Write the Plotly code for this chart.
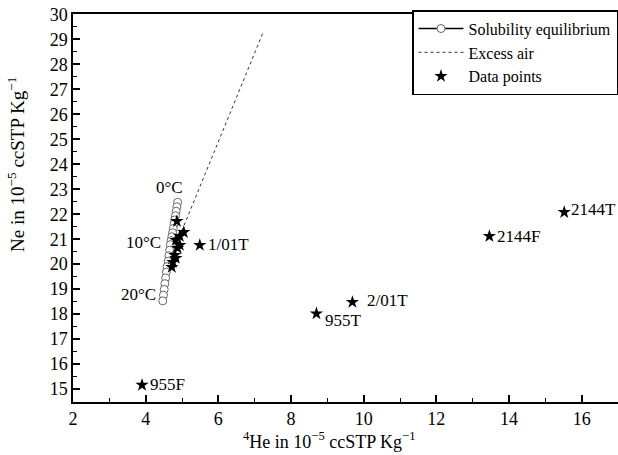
import plotly.graph_objects as go

# Solubility equilibrium (0..20 °C)
temps = list(range(0, 21))
sol_he = [4.88, 4.86, 4.84, 4.82, 4.80, 4.78, 4.76, 4.74, 4.72, 4.70, 4.68,
          4.66, 4.64, 4.62, 4.59, 4.57, 4.55, 4.53, 4.51, 4.49, 4.47]
sol_ne = [22.48, 22.30, 22.12, 21.94, 21.77, 21.60, 21.43, 21.26, 21.10, 20.94, 20.78,
          20.56, 20.34, 20.12, 19.90, 19.68, 19.45, 19.22, 18.99, 18.76, 18.53]

# Excess air line
air_he = [4.62, 7.22]
air_ne = [20.0, 29.24]

# Data points
pts_he = [4.86, 5.05, 4.83, 4.88, 4.80, 4.75, 4.72, 4.94, 4.83, 4.94,
          5.49, 3.90, 8.70, 9.69, 13.46, 15.52]
pts_ne = [21.72, 21.28, 20.96, 20.64, 20.36, 20.08, 19.88, 21.12, 20.24, 20.76,
          20.76, 15.16, 18.02, 18.48, 21.12, 22.08]

label_names = ["1/01T", "955F", "955T", "2/01T", "2144F", "2144T"]
label_he = [5.49, 3.90, 8.70, 9.69, 13.46, 15.52]
label_ne = [20.76, 15.16, 18.02, 18.48, 21.12, 22.08]
label_shift = [(6, 1), (6, 1), (7, -7), (13, 2), (6, 0), (5, 3)]

temp_labels = {0: (7, 15), 10: (-7, 2), 20: (-5, 6)}

x_title = "<sup>4</sup>He in 10<sup>−5</sup> ccSTP Kg<sup>−1</sup>"
y_title = "Ne in 10<sup>−5</sup> ccSTP Kg<sup>−1</sup>"

FONT = "Liberation Serif"

fig = go.Figure()
fig.add_trace(go.Scatter(
    x=sol_he, y=sol_ne, mode="lines+markers", name="Solubility equilibrium",
    line=dict(color="black", width=1.5),
    marker=dict(symbol="circle", size=8, color="white",
                line=dict(color="#666666", width=1)),
))
fig.add_trace(go.Scatter(
    x=air_he, y=air_ne, mode="lines", name="Excess air",
    line=dict(color="#333333", width=1, dash="dot"),
))
fig.add_trace(go.Scatter(
    x=pts_he, y=pts_ne, mode="markers", name="Data points",
    marker=dict(symbol="star", size=10, color="black"),
))

for name, hx, ny, (dx, dy) in zip(label_names, label_he, label_ne, label_shift):
    fig.add_annotation(x=hx, y=ny, text=name, showarrow=False,
                       xanchor="left", yanchor="middle", xshift=dx, yshift=dy,
                       font=dict(family=FONT, size=17, color="black"))

for t, (dx, dy) in temp_labels.items():
    fig.add_annotation(x=sol_he[t], y=sol_ne[t], text=f"{t}°C", showarrow=False,
                       xanchor="right", yanchor="middle", xshift=dx, yshift=dy,
                       font=dict(family=FONT, size=17, color="black"))

# axis titles
fig.add_annotation(xref="paper", yref="paper", x=0.47, y=-0.065, text=x_title,
                   showarrow=False, xanchor="center", yanchor="top",
                   font=dict(family=FONT, size=18, color="black"))
fig.add_annotation(xref="paper", yref="paper", x=-0.105, y=0.613, text=y_title,
                   showarrow=False, xanchor="center", yanchor="middle", textangle=-90,
                   font=dict(family=FONT, size=19, color="black"))

fig.update_layout(
    width=618, height=455,
    margin=dict(l=73, r=0, t=14, b=53, autoexpand=False),
    paper_bgcolor="white", plot_bgcolor="white",
    font=dict(family=FONT, size=16, color="black"),
    showlegend=True,
    legend=dict(x=1, xanchor="right", y=1.01, yanchor="top",
                bgcolor="white", bordercolor="black", borderwidth=1.5,
                font=dict(family=FONT, size=16), tracegroupgap=0,
                itemwidth=45),
)
fig.update_xaxes(
    range=[2, 17], tick0=2, dtick=2, ticks="inside", ticklen=7, tickwidth=1.5,
    tickcolor="black", showline=True, linecolor="black", linewidth=1.5,
    mirror=True, showgrid=False, zeroline=False, automargin=False,
    minor=dict(dtick=1, ticks="inside", ticklen=4, tickwidth=1.2, tickcolor="black"),
    tickfont=dict(family=FONT, size=18),
)
fig.update_yaxes(
    range=[14.48, 30.02], tick0=15, dtick=1, ticks="inside", ticklen=7, tickwidth=1.5,
    tickcolor="black", showline=True, linecolor="black", linewidth=1.5,
    mirror=False, showgrid=False, zeroline=False, automargin=False,
    minor=dict(dtick=0.5, ticks="inside", ticklen=4, tickwidth=1.2, tickcolor="black"),
    tickfont=dict(family=FONT, size=18),
)

fig.write_html(
    "out.html",
    config={"displayModeBar": False},
    post_script="document.body.style.margin='0';document.body.style.overflow='hidden';",
)
